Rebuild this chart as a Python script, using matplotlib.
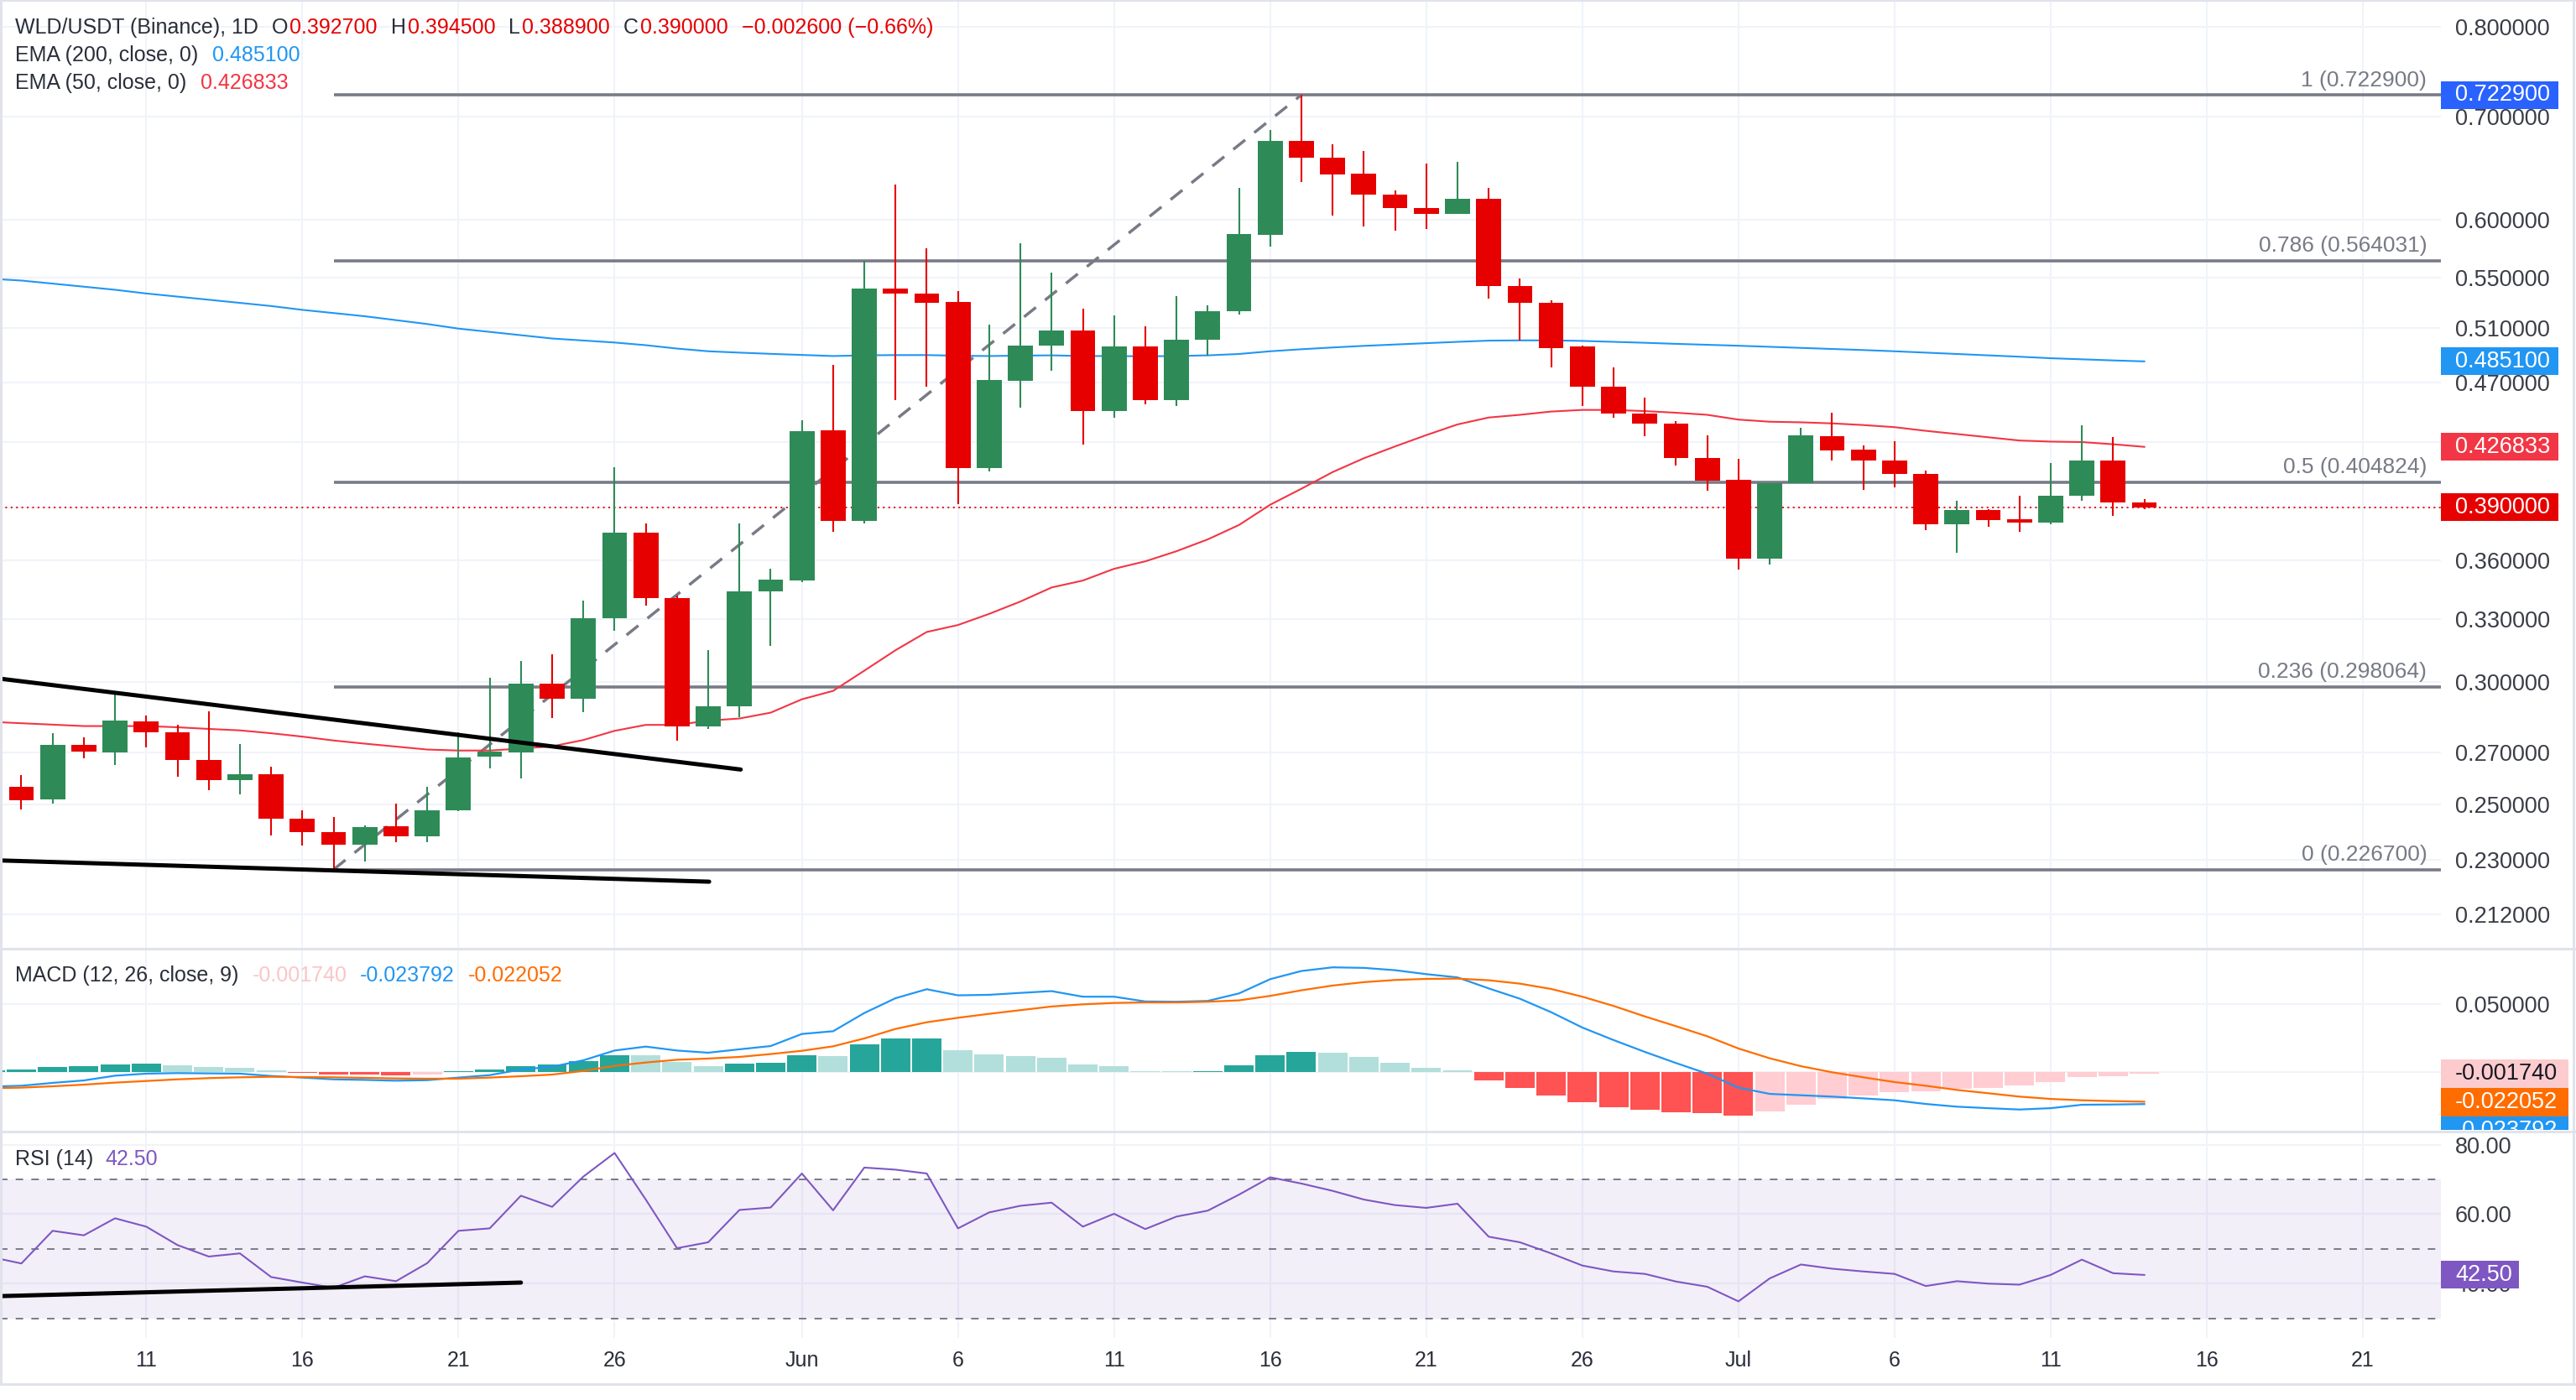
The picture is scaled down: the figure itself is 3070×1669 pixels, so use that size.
import numpy as np
import pandas as pd
import matplotlib
matplotlib.use("Agg")
import matplotlib.pyplot as plt
import matplotlib.dates as mdates
import matplotlib.transforms as mtransforms
from matplotlib.patches import Rectangle
from matplotlib.lines import Line2D
from matplotlib.ticker import FixedLocator, NullLocator, FixedFormatter
from matplotlib.transforms import Bbox

plt.rcParams['font.family'] = ['Liberation Sans', 'DejaVu Sans']

# ---------------- data ----------------
dates = pd.date_range("2025-05-06", "2025-07-14", freq="D")

opens = [0.2480, 0.2566, 0.2519, 0.2733, 0.2700, 0.2830, 0.2785, 0.2672, 0.2593, 0.2614,
         0.2446, 0.2398, 0.2354, 0.2419, 0.2383, 0.2476, 0.2684, 0.2700, 0.2995, 0.2927,
         0.3301, 0.3754, 0.3403, 0.2808, 0.2895, 0.3436, 0.3496, 0.4375, 0.3818, 0.5410,
         0.5371, 0.5302, 0.4133, 0.4710, 0.4966, 0.5082, 0.4503, 0.4962, 0.4576, 0.5010,
         0.5227, 0.5866, 0.6747, 0.6582, 0.6426, 0.6229, 0.6105, 0.6047, 0.6189, 0.5432,
         0.5294, 0.4958, 0.4672, 0.4485, 0.4421, 0.4200, 0.4064, 0.3611, 0.4045, 0.4337,
         0.4250, 0.4183, 0.4100, 0.3803, 0.3883, 0.3830, 0.3809, 0.3965, 0.4183, 0.3927]
highs = [0.2566, 0.2612, 0.2781, 0.2763, 0.2957, 0.2855, 0.2817, 0.2871, 0.2737, 0.2644,
         0.2476, 0.2452, 0.2423, 0.2501, 0.2566, 0.2785, 0.3022, 0.3098, 0.3128, 0.3391,
         0.4140, 0.3806, 0.3417, 0.3148, 0.3806, 0.3556, 0.4442, 0.4824, 0.5640, 0.6319,
         0.5744, 0.5388, 0.5127, 0.5786, 0.5541, 0.5248, 0.5197, 0.5111, 0.5350, 0.5277,
         0.6289, 0.6862, 0.7229, 0.6715, 0.6646, 0.6268, 0.6525, 0.6540, 0.6289, 0.5493,
         0.5316, 0.4970, 0.4809, 0.4594, 0.4435, 0.4344, 0.4193, 0.4045, 0.4393, 0.4492,
         0.4278, 0.4305, 0.4120, 0.3936, 0.3889, 0.3965, 0.4166, 0.4407, 0.4330, 0.3945]
lows = [0.2446, 0.2480, 0.2503, 0.2676, 0.2650, 0.2722, 0.2606, 0.2554, 0.2536, 0.2385,
        0.2349, 0.2267, 0.2294, 0.2362, 0.2362, 0.2474, 0.2638, 0.2597, 0.2844, 0.2869,
        0.3241, 0.3364, 0.2748, 0.2799, 0.2849, 0.3168, 0.3486, 0.3760, 0.3806, 0.4576,
        0.4668, 0.3917, 0.4116, 0.4528, 0.4785, 0.4285, 0.4457, 0.4550, 0.4535, 0.4890,
        0.5202, 0.5763, 0.6344, 0.6037, 0.5937, 0.5903, 0.5917, 0.6047, 0.5332, 0.5006,
        0.4809, 0.4535, 0.4457, 0.4337, 0.4153, 0.3996, 0.3550, 0.3579, 0.4045, 0.4180,
        0.4000, 0.4019, 0.3766, 0.3643, 0.3785, 0.3760, 0.3800, 0.3936, 0.3849, 0.3889]
closes = [0.2540, 0.2515, 0.2733, 0.2704, 0.2835, 0.2783, 0.2670, 0.2593, 0.2614, 0.2446,
          0.2396, 0.2354, 0.2415, 0.2383, 0.2478, 0.2682, 0.2704, 0.2995, 0.2927, 0.3303,
          0.3754, 0.3403, 0.2808, 0.2895, 0.3438, 0.3500, 0.4368, 0.3818, 0.5410, 0.5367,
          0.5298, 0.4133, 0.4717, 0.4966, 0.5082, 0.4503, 0.4962, 0.4576, 0.5010, 0.5231,
          0.5870, 0.6747, 0.6577, 0.6421, 0.6224, 0.6100, 0.6047, 0.6189, 0.5427, 0.5294,
          0.4950, 0.4668, 0.4485, 0.4418, 0.4200, 0.4058, 0.3611, 0.4045, 0.4344, 0.4247,
          0.4180, 0.4097, 0.3803, 0.3883, 0.3827, 0.3809, 0.3968, 0.4183, 0.3926, 0.3900]

ema200 = [0.5490, 0.5475, 0.5450, 0.5425, 0.5400, 0.5370, 0.5345, 0.5320, 0.5295, 0.5270,
          0.5240, 0.5215, 0.5190, 0.5160, 0.5130, 0.5095, 0.5070, 0.5045, 0.5020, 0.5005,
          0.4990, 0.4970, 0.4945, 0.4925, 0.4915, 0.4906, 0.4898, 0.4890, 0.4895, 0.4897,
          0.4897, 0.4892, 0.4890, 0.4893, 0.4895, 0.4890, 0.4890, 0.4888, 0.4890, 0.4895,
          0.4905, 0.4925, 0.4940, 0.4953, 0.4965, 0.4975, 0.4985, 0.4995, 0.5004, 0.5006,
          0.5006, 0.5002, 0.4995, 0.4988, 0.4980, 0.4973, 0.4966, 0.4958, 0.4950, 0.4942,
          0.4934, 0.4925, 0.4915, 0.4905, 0.4895, 0.4885, 0.4874, 0.4866, 0.4858, 0.4851]
ema50 = [0.2828, 0.2822, 0.2816, 0.2810, 0.2810, 0.2810, 0.2805, 0.2798, 0.2792, 0.2780,
         0.2766, 0.2750, 0.2737, 0.2725, 0.2713, 0.2709, 0.2709, 0.2717, 0.2726, 0.2752,
         0.2790, 0.2815, 0.2815, 0.2833, 0.2842, 0.2867, 0.2925, 0.2962, 0.3053, 0.3148,
         0.3235, 0.3269, 0.3324, 0.3386, 0.3458, 0.3494, 0.3556, 0.3596, 0.3651, 0.3716,
         0.3797, 0.3914, 0.4009, 0.4110, 0.4196, 0.4271, 0.4344, 0.4414, 0.4460, 0.4478,
         0.4500, 0.4511, 0.4511, 0.4503, 0.4492, 0.4478, 0.4446, 0.4432, 0.4428, 0.4421,
         0.4410, 0.4396, 0.4372, 0.4351, 0.4330, 0.4309, 0.4302, 0.4299, 0.4285, 0.426833]

macd_line = [-0.0109, -0.0103, -0.0082, -0.0064, -0.0029, -0.0014, -0.0010, -0.0012, -0.0014, -0.0031,
             -0.0043, -0.0056, -0.0060, -0.0066, -0.0062, -0.0043, -0.0025, 0.0016, 0.0037, 0.0084,
             0.0156, 0.0185, 0.0156, 0.0140, 0.0165, 0.0189, 0.0278, 0.0298, 0.0432, 0.0541,
             0.0607, 0.0562, 0.0566, 0.0580, 0.0593, 0.0552, 0.0552, 0.0517, 0.0515, 0.0521,
             0.0576, 0.0681, 0.0741, 0.0768, 0.0764, 0.0747, 0.0718, 0.0694, 0.0613, 0.0537,
             0.0438, 0.0325, 0.0233, 0.0146, 0.0064, -0.0014, -0.0117, -0.0163, -0.0173, -0.0183,
             -0.0196, -0.0210, -0.0237, -0.0257, -0.0268, -0.0278, -0.0268, -0.0243, -0.0241, -0.023792]
signal_line = [-0.0121, -0.0117, -0.0107, -0.0095, -0.0080, -0.0068, -0.0056, -0.0047, -0.0041, -0.0037,
               -0.0039, -0.0041, -0.0045, -0.0049, -0.0051, -0.0051, -0.0043, -0.0033, -0.0021, 0.0006,
               0.0043, 0.0068, 0.0088, 0.0097, 0.0109, 0.0130, 0.0154, 0.0187, 0.0245, 0.0315,
               0.0364, 0.0397, 0.0426, 0.0453, 0.0480, 0.0496, 0.0506, 0.0510, 0.0510, 0.0515,
               0.0525, 0.0558, 0.0599, 0.0634, 0.0659, 0.0675, 0.0683, 0.0685, 0.0673, 0.0648,
               0.0609, 0.0552, 0.0484, 0.0407, 0.0335, 0.0261, 0.0171, 0.0099, 0.0041, -0.0004,
               -0.0041, -0.0076, -0.0103, -0.0134, -0.0158, -0.0183, -0.0200, -0.0210, -0.0216, -0.022052]
macd_hist = [0.0010, 0.0016, 0.0035, 0.0041, 0.0056, 0.0057, 0.0047, 0.0035, 0.0029, 0.0010,
             -0.0006, -0.0019, -0.0020, -0.0027, -0.0019, 0.0006, 0.0016, 0.0041, 0.0056, 0.0080,
             0.0121, 0.0120, 0.0074, 0.0041, 0.0060, 0.0066, 0.0121, 0.0115, 0.0202, 0.0245,
             0.0246, 0.0158, 0.0128, 0.0115, 0.0103, 0.0054, 0.0041, 0.0006, 0.0005, 0.0007,
             0.0047, 0.0121, 0.0146, 0.0140, 0.0109, 0.0066, 0.0029, 0.0010, -0.0062, -0.0117,
             -0.0173, -0.0222, -0.0259, -0.0278, -0.0296, -0.0303, -0.0321, -0.0290, -0.0241, -0.0198,
             -0.0173, -0.0148, -0.0142, -0.0123, -0.0117, -0.0099, -0.0074, -0.0037, -0.0031, -0.00174]
rsi = [47.7, 45.8, 55.2, 53.9, 58.8, 56.4, 51.1, 47.8, 48.7, 41.9,
       40.3, 38.8, 42.1, 40.7, 45.9, 55.2, 55.9, 65.3, 62.1, 70.8,
       77.6, 64.2, 50.2, 51.9, 61.2, 61.9, 71.7, 61.1, 73.4, 72.8,
       71.7, 55.9, 60.5, 62.4, 63.3, 56.4, 60.1, 55.7, 59.3, 61.0,
       65.6, 70.6, 68.8, 66.7, 64.2, 62.6, 61.8, 63.0, 53.5, 51.9,
       48.7, 45.2, 43.5, 42.8, 40.6, 39.1, 34.9, 41.5, 45.5, 44.3,
       43.5, 42.8, 39.3, 40.7, 40.0, 39.7, 42.5, 46.9, 43.0, 42.5]

fib_ratios = ["1", "0.786", "0.5", "0.236", "0"]
fib_levels = [0.7229, 0.564031, 0.404824, 0.298064, 0.2267]
fib_start = "2025-05-17"
swing_dates = ["2025-05-17", "2025-06-17"]
swing_prices = [0.2267, 0.7229]

# hand-drawn trend lines: (days after May 6, value)
tl_upper_days, tl_upper_prices = [0.3, 24.04], [0.3017, 0.2633]
tl_lower_days, tl_lower_prices = [0.3, 23.03], [0.2298, 0.2226]
tl_rsi_days, tl_rsi_values = [0.3, 17.0], [36.4, 40.3]

price_ticks = [0.212, 0.23, 0.25, 0.27, 0.30, 0.33, 0.36, 0.39, 0.43, 0.47, 0.51, 0.55, 0.60, 0.70, 0.80]
macd_ticks = [0.0, 0.05]
macd_tick_labels = ["", "0.050000"]
rsi_ticks = [40, 60, 80]
tick_dates = ["2025-05-11", "2025-05-16", "2025-05-21", "2025-05-26", "2025-06-01", "2025-06-06",
              "2025-06-11", "2025-06-16", "2025-06-21", "2025-06-26", "2025-07-01", "2025-07-06",
              "2025-07-11", "2025-07-16", "2025-07-21"]
tick_labels = ["11", "16", "21", "26", "Jun", "6", "11", "16", "21", "26", "Jul", "6", "11", "16", "21"]

# ---------------- style ----------------
W, H, DPI = 3070, 1669, 100
GREEN, RED = '#2e8b57', '#e60000'
GRID = '#f0f3fa'
SEP = '#e0e3eb'
FIBC = '#787b86'
TXT = '#2a2e39'
AX_TXT = '#3a3d46'
AXFS = 19.5
LGFS = 18

fig = plt.figure(figsize=(W / DPI, H / DPI), dpi=DPI, facecolor='white')
PLOT_R = 2909


def axes_px(top, bottom):
    return fig.add_axes([0, 1 - bottom / H, PLOT_R / W, (bottom - top) / H])


ax_p = axes_px(0, 1130)
ax_m = axes_px(1131, 1348)
ax_r = axes_px(1349, 1595)

x = mdates.date2num(dates)
xt = mdates.date2num(pd.to_datetime(tick_dates))
x0 = mdates.date2num(pd.Timestamp("2025-05-06"))
xlim = (x0 + 0.315, mdates.date2num(pd.Timestamp("2025-07-23")) + 0.5)

for ax in (ax_p, ax_m, ax_r):
    ax.set_facecolor('white')
    for s in ax.spines.values():
        s.set_visible(False)
    ax.set_xlim(*xlim)
    ax.xaxis.set_major_locator(FixedLocator(xt))
    ax.xaxis.set_minor_locator(NullLocator())
    ax.grid(True, axis='both', color=GRID, lw=1.5, zorder=0)
    ax.set_axisbelow(True)
    ax.yaxis.tick_right()
    ax.tick_params(axis='both', length=0, labelsize=AXFS, labelcolor=AX_TXT, pad=12)
    ax.tick_params(axis='x', labelbottom=False)

# ---------------- price pane ----------------
o, hi, lo, c = map(np.array, (opens, highs, lows, closes))
cols = np.where(c >= o, GREEN, RED)
ax_p.set_yscale('log')
ax_p.set_ylim(0.2016, 0.8333)
ax_p.yaxis.set_major_locator(FixedLocator(price_ticks))
ax_p.yaxis.set_minor_locator(NullLocator())
ax_p.yaxis.set_major_formatter(FixedFormatter([f"{v:.6f}" for v in price_ticks]))

ax_p.vlines(x, lo, hi, colors=cols, lw=1.5, zorder=4)
ax_p.bar(x, np.abs(c - o), bottom=np.minimum(o, c), width=0.8, color=cols, lw=0, zorder=5)
ax_p.plot(x, ema200, color='#2196f3', lw=1.5, zorder=3)
ax_p.plot(x, ema50, color='#f23645', lw=1.5, zorder=3)

xf = mdates.date2num(pd.Timestamp(fib_start))
ax_p.hlines(fib_levels, xf, xlim[1], colors=FIBC, lw=2.6, zorder=2)
bt = mtransforms.blended_transform_factory(ax_p.transAxes, ax_p.transData)
for r, lv in zip(fib_ratios, fib_levels):
    ax_p.annotate(f"{r} ({lv:.6f})", xy=(1, lv), xycoords=bt, xytext=(-12, 7.5),
                  textcoords='offset points', ha='right', va='baseline',
                  color=FIBC, fontsize=19, zorder=6)
ax_p.plot(mdates.date2num(pd.to_datetime(swing_dates)), swing_prices, color=FIBC, lw=2.5,
          ls=(0, (5.2, 4)), zorder=2)
ax_p.plot(x0 + np.array(tl_upper_days), tl_upper_prices, color='black', lw=3.6,
          solid_capstyle='round', zorder=6)
ax_p.plot(x0 + np.array(tl_lower_days), tl_lower_prices, color='black', lw=3.6,
          solid_capstyle='round', zorder=6)
ax_p.axhline(closes[-1], color=RED, lw=1.4, ls=(0, (1, 2.3)), zorder=2)

# ---------------- MACD pane ----------------
hv = np.array(macd_hist)
prev = np.r_[hv[0] - 1e-9, hv[:-1]]
hcols = np.where(hv >= 0, np.where(hv >= prev, '#26a69a', '#b2dfdb'),
                 np.where(hv < prev, '#ff5252', '#ffcdd2'))
ax_m.bar(x, hv, width=0.94, color=hcols, lw=0, zorder=2)
ax_m.plot(x, macd_line, color='#2196f3', lw=1.6, zorder=3)
ax_m.plot(x, signal_line, color='#ff6d00', lw=1.6, zorder=3)
ax_m.set_ylim(-0.0434, 0.0905)
ax_m.yaxis.set_major_locator(FixedLocator(macd_ticks))
ax_m.yaxis.set_major_formatter(FixedFormatter(macd_tick_labels))

# ---------------- RSI pane ----------------
ax_r.axhspan(30, 70, color='#7e57c2', alpha=0.09, lw=0, zorder=1)
for lv in (70, 50, 30):
    ax_r.axhline(lv, color=FIBC, lw=1.4, ls=(0, (4.6, 5)), zorder=2)
ax_r.plot(x, rsi, color='#7e57c2', lw=1.5, zorder=3)
ax_r.plot(x0 + np.array(tl_rsi_days), tl_rsi_values, color='black', lw=3.6,
          solid_capstyle='round', zorder=4)
ax_r.set_ylim(24.37, 83.76)
ax_r.yaxis.set_major_locator(FixedLocator(rsi_ticks))
ax_r.yaxis.set_major_formatter(FixedFormatter([f"{v:.2f}" for v in rsi_ticks]))
ax_r.tick_params(axis='x', labelbottom=True, labelsize=LGFS, labelcolor=TXT, pad=11)
ax_r.xaxis.set_major_formatter(FixedFormatter(tick_labels))

# ---------------- frame / separators ----------------
def fig_line(x1, y1, x2, y2, color=SEP, lw=2.2):
    fig.add_artist(Line2D([x1 / W, x2 / W], [1 - y1 / H, 1 - y2 / H], color=color, lw=lw,
                          transform=fig.transFigure, zorder=20))

fig_line(0, 1130.5, 3068, 1130.5)
fig_line(0, 1348.5, 3068, 1348.5)
fig_line(0, 1650, 3068, 1650)
fig_line(3067, 0, 3067, 1650)
fig_line(0.5, 0, 0.5, 1650)
fig_line(0, 0.5, 3068, 0.5)

# ---------------- value boxes on the scale ----------------
def box_at(yd, text, fc, tc, x1, h=33, clip_top=None, clip_bot=None):
    rect = Rectangle((PLOT_R / W, (yd - h / 2) / H), (x1 - PLOT_R) / W, h / H,
                     transform=fig.transFigure, fc=fc, ec='none', zorder=30)
    t = fig.text(2926 / W, yd / H, text, color=tc, fontsize=AXFS, ha='left', va='center', zorder=31)
    fig.add_artist(rect)
    if clip_bot is not None:
        cb = Bbox([[PLOT_R, H - clip_bot], [W, H - clip_top]])
        rect.set_clip_box(cb)
        rect.set_clip_on(True)
        t.set_clip_box(cb)
        t.set_clip_on(True)


def ydisp(ax, v):
    return ax.transData.transform((xlim[0], v))[1]


box_at(ydisp(ax_p, 0.7229), "0.722900", '#2962ff', 'white', 3049)
box_at(ydisp(ax_p, ema200[-1]), f"{ema200[-1]:.6f}", '#2196f3', 'white', 3049)
box_at(ydisp(ax_p, ema50[-1]), f"{ema50[-1]:.6f}", '#f23645', 'white', 3049)
box_at(ydisp(ax_p, closes[-1]), f"{closes[-1]:.6f}", RED, 'white', 3049)

yh = ydisp(ax_m, macd_hist[-1])
box_at(yh, f"{macd_hist[-1]:.6f}", '#fccbcd', '#131722', 3061, h=34)
box_at(yh - 34, f"{signal_line[-1]:.6f}", '#ff6d00', 'white', 3061, h=34)
box_at(yh - 68, f"{macd_line[-1]:.6f}", '#2196f3', 'white', 3061, h=34, clip_top=1131, clip_bot=1347)

box_at(ydisp(ax_r, rsi[-1]), f"{rsi[-1]:.2f}", '#7e57c2', 'white', 3002)

# ---------------- legends ----------------
renderer = fig.canvas.get_renderer()


def seq_text(x_px, y_px, parts, size=LGFS):
    xx = x_px
    for txt, color, gap in parts:
        xx += gap
        t = fig.text(xx / W, 1 - y_px / H, txt, color=color, fontsize=size, ha='left',
                     va='center', zorder=25)
        xx += t.get_window_extent(renderer).width


chg = closes[-1] - closes[-2]
pct = chg / closes[-2] * 100
seq_text(18, 33, [("WLD/USDT (Binance), 1D", TXT, 0),
                  ("O", TXT, 16), (f"{opens[-1]:.6f}", RED, 2),
                  ("H", TXT, 16), (f"{highs[-1]:.6f}", RED, 2),
                  ("L", TXT, 16), (f"{lows[-1]:.6f}", RED, 2),
                  ("C", TXT, 16), (f"{closes[-1]:.6f}", RED, 2),
                  (f"\u2212{abs(chg):.6f} (\u2212{abs(pct):.2f}%)", RED, 16)])
seq_text(18, 66, [("EMA (200, close, 0)", TXT, 0), (f"{ema200[-1]:.6f}", '#2196f3', 17)])
seq_text(18, 99, [("EMA (50, close, 0)", TXT, 0), (f"{ema50[-1]:.6f}", '#f23645', 17)])
seq_text(18, 1163, [("MACD (12, 26, close, 9)", TXT, 0),
                    (f"{macd_hist[-1]:.6f}", '#f9c6c9', 16),
                    (f"{macd_line[-1]:.6f}", '#2196f3', 16),
                    (f"{signal_line[-1]:.6f}", '#ff6d00', 16)])
seq_text(18, 1382, [("RSI (14)", TXT, 0), (f"{rsi[-1]:.2f}", '#7e57c2', 14)])

fig.savefig("out.png", dpi=DPI, facecolor='white')
